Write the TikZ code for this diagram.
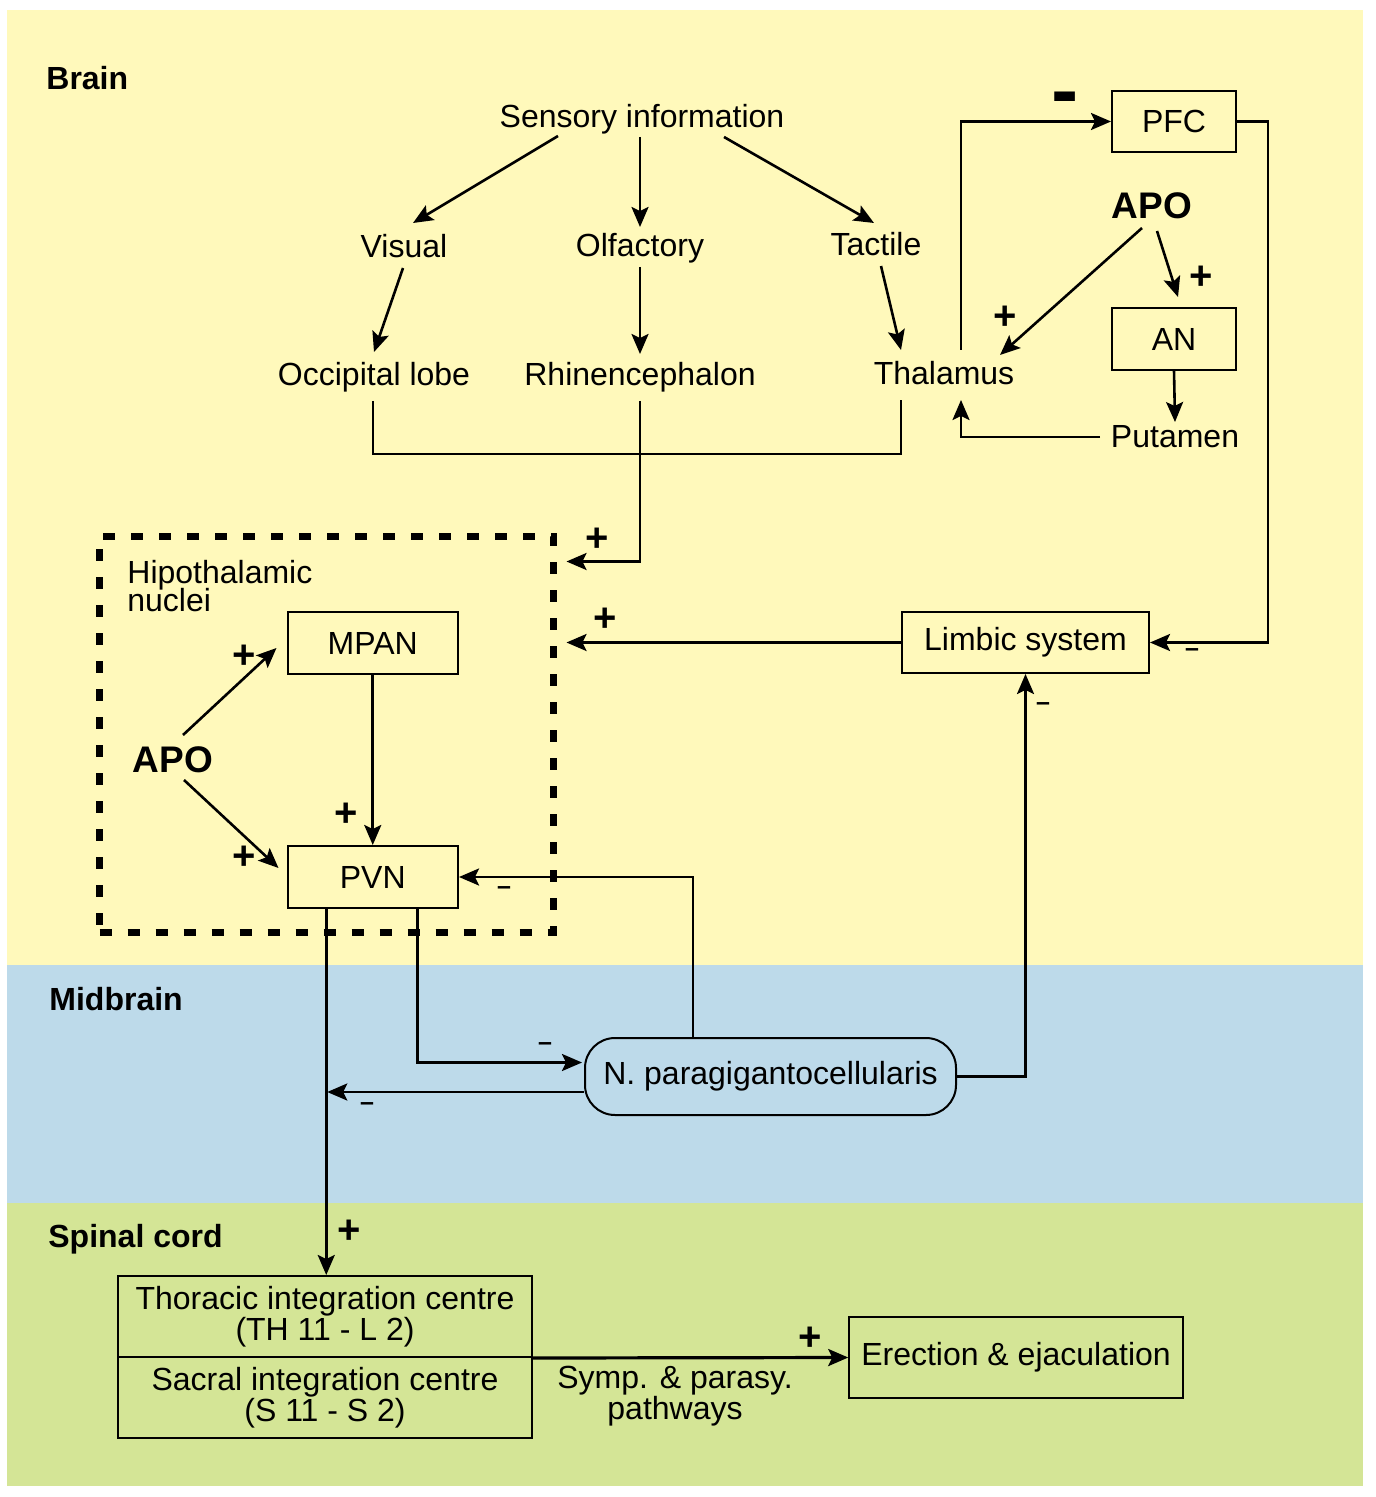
\documentclass[tikz,border=0pt]{standalone}
\usepackage{fontspec}
\setmainfont{Liberation Sans}
\usetikzlibrary{arrows.meta,calc}
\definecolor{bgyellow}{RGB}{255,249,187}
\definecolor{bgblue}{RGB}{189,218,234}
\definecolor{bggreen}{RGB}{212,229,150}
\begin{document}
\begin{tikzpicture}[x=0.5pt,y=-0.5pt,
  txt/.style={inner sep=0pt, font=\fontsize{16}{15.5}\selectfont},
  lbl/.style={inner sep=0pt, font=\fontsize{16}{16}\selectfont\bfseries, anchor=base west},
  apo/.style={inner sep=0pt, font=\fontsize{18.5}{18.5}\selectfont\bfseries, anchor=base},
  box/.style={draw, line width=1pt, inner sep=0pt, font=\fontsize{16}{15.5}\selectfont, align=center},
  arr/.style={line width=1.3pt, -{Stealth[length=10pt,width=8.5pt,inset=2pt]}},
  ln/.style={line width=1.3pt},
  pls/.style={inner sep=0pt, font=\fontsize{20}{20}\selectfont\bfseries},
  mns/.style={inner sep=0pt, font=\fontsize{12.5}{12.5}\selectfont\bfseries}]
\useasboundingbox (0,0) rectangle (1375,1497);
% background bands
\fill[bgyellow] (7,10) rectangle (1363,965);
\fill[bgblue] (7,965) rectangle (1363,1203);
\fill[bggreen] (7,1203) rectangle (1363,1486);
% region labels
\node[lbl] (brainL) at (46,90) {Brain};
\node[lbl] (midL) at (49,1010) {Midbrain};
\node[lbl] (spinL) at (48,1247) {Spinal cord};
% sensory part
\node[txt, anchor=base] (sens) at (642,128) {Sensory information};
\node[txt, anchor=base] (vis) at (404,258) {Visual};
\node[txt, anchor=base] (olf) at (640,257) {Olfactory};
\node[txt, anchor=base] (tact) at (876,256) {Tactile};
\node[txt, anchor=base] (occ) at (374,386) {Occipital lobe};
\node[txt, anchor=base] (rhin) at (640,386) {Rhinencephalon};
\node[txt, anchor=base] (thal) at (944,385) {Thalamus};
\node[txt, anchor=base] (put) at (1175,447) {Putamen};
\node[apo] (apoR) at (1152,219) {APO};
\node[box, minimum width=62pt, minimum height=30.5pt] (pfc) at (1174,121.5) {PFC};
\node[box, minimum width=62pt, minimum height=31pt] (an) at (1174,339) {AN};
% hypothalamic part
\node[draw, line width=3.5pt, dash pattern=on 6pt off 8pt, minimum width=226.75pt, minimum height=198pt, inner sep=0pt] (hypo) at (326.25,734) {};
\node[txt, anchor=west, align=left, font=\fontsize{16}{13.5}\selectfont] (hyptxt) at (127,586) {Hipothalamic\\[-2pt]nuclei};
\node[box, minimum width=85.25pt, minimum height=31pt] (mpan) at (372.75,643) {MPAN};
\node[box, minimum width=85.25pt, minimum height=31pt] (pvn) at (372.75,877) {PVN};
\node[apo] (apoL) at (173,772) {APO};
\node[box, minimum width=123.5pt, minimum height=30.5pt] (limb) at (1025.5,642.5) {Limbic system};
\node[box, rounded corners=15pt, minimum width=185.5pt, minimum height=38.5pt] (npg) at (770.5,1076.5) {N. paragigantocellularis};
% spinal part
\node[box, minimum width=207pt, minimum height=40.5pt] (thor) at (325,1316.5) {Thoracic integration centre\\(TH 11 - L 2)};
\node[box, minimum width=207pt, minimum height=40.5pt] (sac) at (325,1397.5) {Sacral integration centre\\(S 11 - S 2)};
\node[box, minimum width=166.75pt, minimum height=40.5pt] (ere) at (1016,1357.5) {Erection \& ejaculation};
\node[txt, align=center] (symp) at (675,1396) {Symp. \& parasy.\\pathways};
% sensory arrows
\draw[arr] ($(sens.base)+(-84,8)$) -- ($(vis.base)+(9,-35)$);
\draw[arr] ($(sens.base)+(-2,9)$) -- ($(olf.base)+(0,-30)$);
\draw[arr] ($(sens.base)+(82,9)$) -- ($(tact.base)+(-2,-33)$);
\draw[arr] ($(vis.base)+(-1,10)$) -- ($(occ.base)+(0,-34)$);
\draw[arr] ($(olf.base)+(0,10)$) -- ($(rhin.base)+(0,-32)$);
\draw[arr] ($(tact.base)+(5,10)$) -- ($(thal.base)+(-43,-35)$);
\draw[ln] ($(occ.base)+(-1,15)$) |- ($(thal.base)+(-43,69)$) -- ($(thal.base)+(-43,15)$);
\draw[arr] ($(rhin.base)+(0,15)$) |- ($(hypo.north east)+(10,29)$);
% thalamus / PFC loop
\draw[arr] ($(thal.base)+(17,-35)$) |- (pfc.west);
\draw[arr] (pfc.east) -- ++(31,0) |- (limb.east);
\draw[arr] ($(apoR.base)+(-10,9)$) -- ($(thal.base)+(56,-30)$);
\draw[arr] ($(apoR.base)+(5,12)$) -- ($(an.north)+(4,-10)$);
\draw[arr] (an.south) -- ($(put.base)+(0,-25)$);
\draw[arr] ($(put.base)+(-75,-10)$) -| ($(thal.base)+(17,15)$);
% limbic and hypothalamus
\draw[arr] (limb.west) -- ($(limb.west -| hypo.east)+(10,0)$);
\draw[arr] ($(apoL.base)+(10,-37)$) -- ($(mpan.west)+(-10,5)$);
\draw[arr] ($(apoL.base)+(11,8)$) -- ($(pvn.west)+(-8,-9)$);
\draw[arr] (mpan.south) -- (pvn.north);
% N. paragigantocellularis connections
\draw[arr] ($(npg.north)+(-77.5,0)$) |- (pvn.east);
\draw[arr] ($(pvn.south)+(45,0)$) |- ($(npg.west)+(-2,-14)$);
\coordinate (vs) at ($(pvn.south)+(-46.5,0)$);
\draw[arr] ($(npg.west)+(0,15.5)$) coordinate (nq) -- ($(nq -| vs)+(1,0)$);
\draw[arr] (npg.east) -| (limb.south);
\draw[arr] (vs) -- (vs |- thor.north);
\draw[arr, line width=1.6pt] (thor.south east) -- (ere.west);
% signs
\node[pls] (p1) at (597,540) {+};
\node[pls] (p2) at (605,620) {+};
\node[pls] (p3) at (1005,318) {+};
\node[pls] (p4) at (1201,278) {+};
\node[pls] (p5) at (244,657) {+};
\node[pls] (p6) at (244,858) {+};
\node[pls] (p7) at (346,815) {+};
\node[pls] (p8) at (349,1232) {+};
\node[pls] (p9) at (810,1339) {+};
\node[inner sep=0pt, font=\fontsize{16}{16}\selectfont\bfseries] (m0) at (1065,107) {\scalebox{1.3}[3]{–}};
\node[mns] (m1) at (1192,653) {–};
\node[mns] (m2) at (1043,707) {–};
\node[mns] (m3) at (504,891) {–};
\node[mns] (m4) at (545,1047) {–};
\node[mns] (m5) at (367,1107) {–};
\end{tikzpicture}
\end{document}
